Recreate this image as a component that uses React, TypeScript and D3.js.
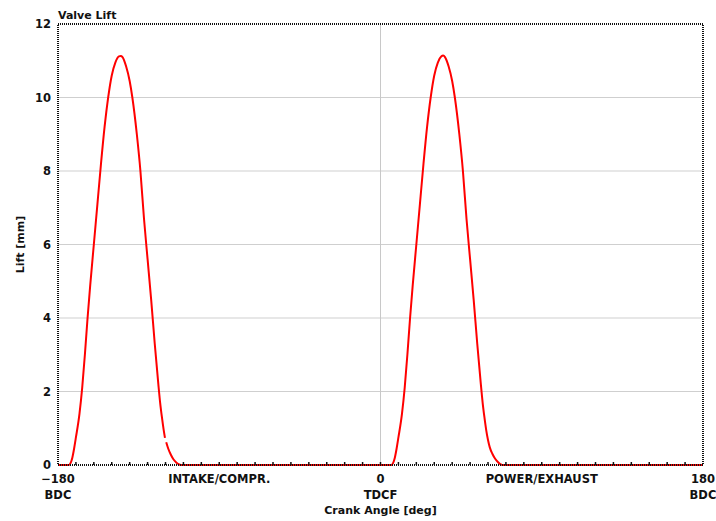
import React from "react";
import * as d3 from "d3";

const intakeAngles = [-180, -174, -173, -172, -171, -170, -168, -166.5, -165, -163.5, -162, -160, -158, -156, -154, -152, -150, -148, -146, -145, -144, -142, -140, -138.5, -136, -134, -132, -130, -128, -126, -124, -123, -122, -121, -120.3, -120.0, -119.6, -118.5, -117, -115.5, -114, -112.5, -111.5, -100];
const intakeLift = [0, 0, 0.05, 0.2, 0.45, 0.75, 1.4, 2.1, 3.0, 4.0, 4.9, 6.0, 7.1, 8.2, 9.2, 10.0, 10.6, 10.95, 11.12, 11.13, 11.1, 10.85, 10.45, 10.0, 9.0, 8.0, 6.7, 5.6, 4.5, 3.3, 2.2, 1.7, 1.3, 0.95, 0.74, NaN, 0.62, 0.45, 0.28, 0.15, 0.07, 0.02, 0, 0];

const exhaustAngles = [-100, 6, 7, 8, 9, 10, 12, 13.5, 15, 16.5, 18, 20, 22, 24, 26, 28, 30, 32, 34, 35, 36, 38, 40, 41.5, 44, 46, 48, 50, 52, 54, 56, 57, 58, 59, 60, 61, 62.5, 64, 65.5, 67, 68, 180];
const exhaustLift = [0, 0, 0.05, 0.2, 0.45, 0.75, 1.4, 2.1, 3.0, 4.0, 4.9, 6.0, 7.1, 8.2, 9.2, 10.0, 10.6, 10.95, 11.12, 11.14, 11.1, 10.85, 10.45, 10.0, 9.0, 8.0, 6.7, 5.6, 4.5, 3.3, 2.2, 1.7, 1.3, 0.95, 0.68, 0.48, 0.3, 0.17, 0.08, 0.02, 0, 0];

const yTicks = [0, 2, 4, 6, 8, 10, 12];
const xLabelValues = [-180, -90, 0, 90, 180];
const xLabelTop = ["\u2212180", "INTAKE/COMPR.", "0", "POWER/EXHAUST", "180"];
const xLabelBottom = ["BDC", "", "TDCF", "", "BDC"];
const xMinorTicks = d3.range(-170, 180, 10);

const W = 716, H = 521;
const L = 58, R = 703, T = 24, B = 465;
const FONT = "'DejaVu Sans', sans-serif";

export default function App() {
  const x = d3.scaleLinear().domain([-180, 180]).range([L, R]);
  const y = d3.scaleLinear().domain([0, 12]).range([B, T]);

  const line = d3
    .line<[number, number]>()
    .defined((d) => !isNaN(d[1]))
    .x((d) => x(d[0]))
    .y((d) => y(d[1]))
    .curve(d3.curveMonotoneX);

  const intake: [number, number][] = intakeAngles.map((a, i) => [a, intakeLift[i]]);
  const exhaust: [number, number][] = exhaustAngles.map((a, i) => [a, exhaustLift[i]]);
  const middle: [number, number][] = [[-112, 0], [6, 0]];

  return (
    <svg width={W} height={H} style={{ position: "absolute", left: 0, top: 0, background: "#fff" }}>
      {yTicks.filter((t) => t > 0 && t < 12).map((t) => (
        <line key={t} x1={L} x2={R} y1={y(t)} y2={y(t)} stroke="#cfcfcf" strokeWidth={1} />
      ))}
      <line x1={x(0)} x2={x(0)} y1={T} y2={B} stroke="#c8c8c8" strokeWidth={1} />

      <path d={line(intake) || ""} fill="none" stroke="#ff0000" strokeWidth={2} />
      <path d={line(middle) || ""} fill="none" stroke="#ff0000" strokeWidth={2} />
      <path d={line(exhaust) || ""} fill="none" stroke="#ff0000" strokeWidth={2} />

      <rect x={L} y={T} width={R - L} height={B - T} fill="none" stroke="#111" strokeWidth={2} strokeDasharray="1 1" />
      {xMinorTicks.map((t) => (
        <line key={t} x1={x(t)} x2={x(t)} y1={B} y2={B - 3} stroke="#111" strokeWidth={1.5} />
      ))}

      {yTicks.map((t) => (
        <text key={t} x={51} y={y(t)} dy="0.35em" textAnchor="end" fontFamily={FONT} fontWeight="bold" fontSize={11.5} fill="#111">
          {t}
        </text>
      ))}

      {xLabelValues.map((v, i) => (
        <g key={v}>
          <text x={x(v)} y={483} textAnchor="middle" fontFamily={FONT} fontWeight="bold" fontSize={11.5} fill="#111">
            {xLabelTop[i]}
          </text>
          {xLabelBottom[i] && (
            <text x={x(v)} y={499} textAnchor="middle" fontFamily={FONT} fontWeight="bold" fontSize={11.5} fill="#111">
              {xLabelBottom[i]}
            </text>
          )}
        </g>
      ))}

      <text x={L} y={19} fontFamily={FONT} fontWeight="bold" fontSize={11} fill="#111">Valve Lift</text>
      <text x={(L + R) / 2} y={514} textAnchor="middle" fontFamily={FONT} fontWeight="bold" fontSize={11} fill="#111">Crank Angle [deg]</text>
      <text transform={`translate(24, ${(T + B) / 2}) rotate(-90)`} textAnchor="middle" fontFamily={FONT} fontWeight="bold" fontSize={11} fill="#111">Lift [mm]</text>
    </svg>
  );
}
